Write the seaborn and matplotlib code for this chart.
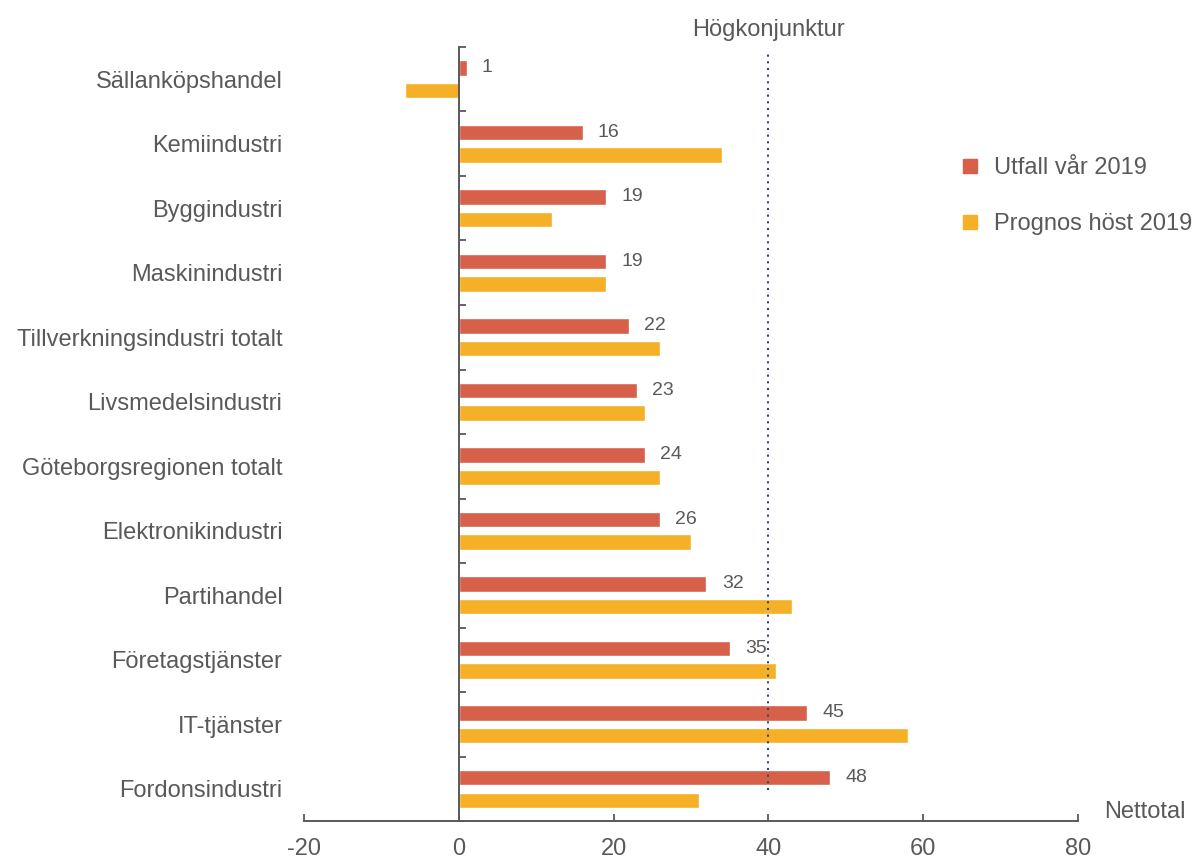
import pandas as pd
import matplotlib.pyplot as plt
import seaborn as sns
from matplotlib.ticker import FixedLocator

# Data
branscher = [
    "Sällanköpshandel",
    "Kemiindustri",
    "Byggindustri",
    "Maskinindustri",
    "Tillverkningsindustri totalt",
    "Livsmedelsindustri",
    "Göteborgsregionen totalt",
    "Elektronikindustri",
    "Partihandel",
    "Företagstjänster",
    "IT-tjänster",
    "Fordonsindustri",
]
utfall_var_2019 = [1, 16, 19, 19, 22, 23, 24, 26, 32, 35, 45, 48]
prognos_host_2019 = [-7, 34, 12, 19, 26, 24, 26, 30, 43, 41, 58, 31]
series_names = ["Utfall vår 2019", "Prognos höst 2019"]
x_ticks = [-20, 0, 20, 40, 60, 80]
hogkonjunktur = 40

colors = ["#D6604A", "#F5B027"]
text_color = "#595959"

df = pd.DataFrame(
    {
        "bransch": branscher * 2,
        "nettotal": utfall_var_2019 + prognos_host_2019,
        "serie": [series_names[0]] * len(branscher)
        + [series_names[1]] * len(branscher),
    }
)

sns.set_style("white")
plt.rcParams["font.family"] = ["Liberation Sans", "DejaVu Sans"]

fig = plt.figure(figsize=(11.98, 8.59), dpi=100)
ax = fig.add_axes([0.2538, 0.0442, 0.646, 0.9011])

sns.barplot(
    data=df,
    x="nettotal",
    y="bransch",
    hue="serie",
    palette=colors,
    orient="h",
    width=0.7,
    gap=0.33,
    order=branscher,
    hue_order=series_names,
    ax=ax,
    saturation=1,
)

# value labels on the first series only
ax.bar_label(ax.containers[0], padding=11, fontsize=14, color=text_color)

ax.set_xlim(-20, 80)
ax.set_ylim(len(branscher) - 0.5, -0.5)
ax.set_xticks(x_ticks)
ax.set_xticklabels([str(t) for t in x_ticks], fontsize=17, color=text_color)
ax.tick_params(axis="x", bottom=True, direction="in", length=5, width=1.3,
               color=text_color, pad=12)

# y axis: spine at zero, labels on the far left, ticks between categories
ax.spines["left"].set_position(("data", 0))
ax.yaxis.set_minor_locator(FixedLocator([i - 0.5 for i in range(len(branscher) + 1)]))
ax.tick_params(axis="y", which="major", left=True, length=0, pad=127, labelsize=17,
               labelcolor=text_color)
ax.tick_params(axis="y", which="minor", left=True, direction="in", length=5,
               width=1.3, color=text_color)
for side in ["top", "right"]:
    ax.spines[side].set_visible(False)
for side in ["left", "bottom"]:
    ax.spines[side].set_color(text_color)
    ax.spines[side].set_linewidth(1.4)

ax.set_xlabel("")
ax.set_ylabel("")

ax.axvline(hogkonjunktur, ymin=0.04, ymax=0.993, color="#2F4A6B", ls=(0, (1, 2.2)),
           lw=1.5)
ax.text(hogkonjunktur, 1.008, "Högkonjunktur", transform=ax.get_xaxis_transform(),
        ha="center", va="bottom", fontsize=17, color=text_color)
ax.text(1.034, -0.003, "Nettotal", transform=ax.transAxes, ha="left", va="bottom",
        fontsize=17, color=text_color)

handles, labels = ax.get_legend_handles_labels()
handles = [plt.Line2D([], [], marker="s", ls="", markersize=9.5, color=c) for c in colors]
ax.legend(handles, labels, loc="upper left", bbox_to_anchor=(0.7837, 0.842),
          bbox_transform=fig.transFigure, frameon=False, fontsize=17,
          labelspacing=1.45, handlelength=0.8, handletextpad=0.64,
          labelcolor=text_color)

fig.savefig("out.png", dpi=100)
